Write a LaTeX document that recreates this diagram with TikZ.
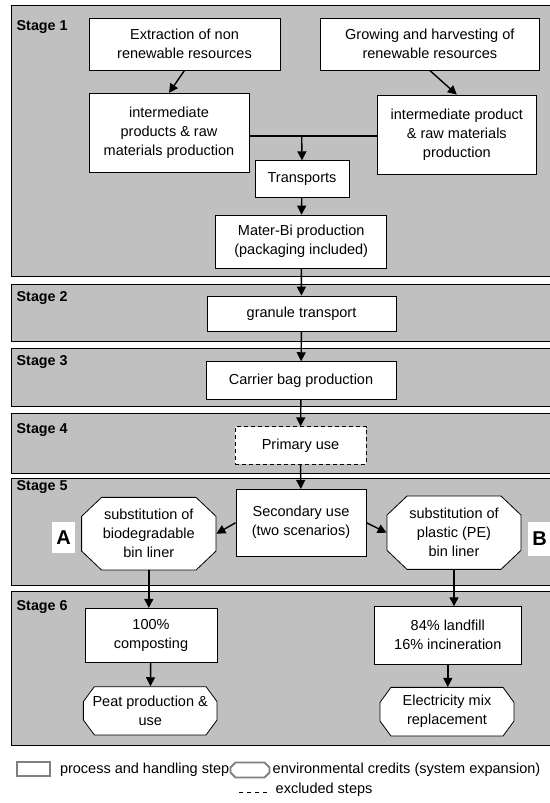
\documentclass[tikz,border=0pt]{standalone}
\usepackage{fontspec}
\setmainfont{Liberation Sans}
\usetikzlibrary{arrows.meta}
\definecolor{bandgray}{HTML}{C0C0C0}
\definecolor{leggray}{HTML}{808080}

\tikzset{
    stageband/.style={fill=bandgray, draw=black, line width=0.8pt},
    stagelabel/.style={anchor=west, inner sep=0pt, font=\fontsize{14.3}{16}\selectfont\bfseries},
    procbox/.style={draw=black, fill=white, line width=0.8pt, align=center, inner sep=0pt, font=\fontsize{14.5}{19}\selectfont},
    credittext/.style={procbox, draw=none, fill=none},
    creditline/.style={draw=black, fill=white, line width=0.8pt},
    letterbox/.style={fill=white, inner sep=0pt, font=\fontsize{20}{20}\selectfont\bfseries},
    legtext/.style={anchor=west, inner sep=0pt, font=\fontsize{14.5}{16}\selectfont}
}

% octagon outline: centre x, centre y, width, height, chamfer x, chamfer y
\newcommand{\creditshape}[7][creditline]{%
    \draw[#1] ({#2-#4/2+#6},{#3-#5/2}) -- ({#2+#4/2-#6},{#3-#5/2}) -- ({#2+#4/2},{#3-#5/2+#7})
        -- ({#2+#4/2},{#3+#5/2-#7}) -- ({#2+#4/2-#6},{#3+#5/2}) -- ({#2-#4/2+#6},{#3+#5/2})
        -- ({#2-#4/2},{#3+#5/2-#7}) -- ({#2-#4/2},{#3-#5/2+#7}) -- cycle;}

\begin{document}
\begin{tikzpicture}[x=1pt, y=-1pt, >={Triangle[length=9pt,width=9pt]}, line width=1.4pt]
        \useasboundingbox (0,0) rectangle (549,803);

        % stages
        \draw[stageband] (11,5) rectangle (560,276.7);
        \draw[stageband] (11,284) rectangle (560,341);
        \draw[stageband] (11,348.3) rectangle (560,406);
        \draw[stageband] (11,413.3) rectangle (560,473.3);
        \draw[stageband] (11,478.3) rectangle (560,585);
        \draw[stageband] (11,591.7) rectangle (560,745);

        \node[stagelabel] (st1) at (16,27) {Stage 1};
        \node[stagelabel] (st2) at (16,298) {Stage 2};
        \node[stagelabel] (st3) at (16,361.7) {Stage 3};
        \node[stagelabel] (st4) at (16,430) {Stage 4};
        \node[stagelabel] (st5) at (16,487) {Stage 5};
        \node[stagelabel] (st6) at (16,606.7) {Stage 6};

        % stage 1
        \node[procbox, minimum width=191pt, minimum height=51.7pt] (extr) at (184.5,44.2) {Extraction of non\\renewable resources};
        \node[procbox, minimum width=219.7pt, minimum height=51.7pt] (grow) at (429.8,44.2) {Growing and harvesting of\\renewable resources};
        \node[procbox, minimum width=160pt, minimum height=79.4pt] (intl) at (169,133) {intermediate\\products \& raw\\materials production};
        \node[procbox, minimum width=158.5pt, minimum height=79.3pt] (intr) at (456.8,134.7) {intermediate product\\\& raw materials\\production};
        \node[procbox, minimum width=94pt, minimum height=36.6pt] (trans) at (302,179) {Transports};
        \node[procbox, minimum width=171pt, minimum height=53.3pt] (mater) at (301.2,241.7) {Mater-Bi production\\(packaging included)};

        % stages 2 to 4
        \node[procbox, minimum width=189pt, minimum height=35pt] (gran) at (301.5,313.5) {granule transport};
        \node[procbox, minimum width=190pt, minimum height=37.3pt] (carr) at (301,380.3) {Carrier bag production};
        \node[procbox, dash pattern=on 4pt off 3pt, minimum width=131pt, minimum height=37.6pt] (prim) at (300.5,445.5) {Primary use};

        % stage 5
        \node[procbox, minimum width=130pt, minimum height=66.7pt] (sec) at (301,522.7) {Secondary use\\(two scenarios)};
        \creditshape{148.8}{533.7}{134.4}{72.7}{20}{19}
        \node[credittext, minimum width=134.4pt, minimum height=72.7pt] (octA) at (148.8,533.7) {substitution of\\biodegradable\\bin liner};
        \creditshape{454}{532.7}{134}{73.3}{20}{19}
        \node[credittext, minimum width=134pt, minimum height=73.3pt] (octB) at (454,532.7) {substitution of\\plastic (PE)\\bin liner};
        \node[letterbox, minimum width=23.5pt, minimum height=31.6pt] (lA) at (63.5,537.5) {A};
        \node[letterbox, minimum width=23pt, minimum height=34pt] (lB) at (539.5,538.5) {B};

        % stage 6
        \node[procbox, minimum width=132pt, minimum height=54.4pt] (comp) at (151,635.5) {100\%\\composting};
        \creditshape{150.2}{710.8}{133.7}{48.3}{11}{15}
        \node[credittext, minimum width=133.7pt, minimum height=48.3pt] (peat) at (150.2,710.8) {Peat production \&\\use};
        \node[procbox, minimum width=147.7pt, minimum height=57.3pt] (land) at (447.8,635.3) {84\% landfill\\16\% incineration};
        \creditshape{447}{711.7}{134}{48.7}{11}{15}
        \node[credittext, minimum width=134pt, minimum height=48.7pt] (elec) at (447,711.7) {Electricity mix\\replacement};

        % connectors
        \coordinate (jn) at (301.7,136);
        \draw[->] (extr.south) -- (intl.north);
        \draw[->] (grow.south) -- (intr.north);
        \draw (intl.east |- jn) -- (intr.west |- jn);
        \draw[->] (jn) -- (trans.north);
        \draw[->] (trans) -- (mater);
        \draw[->] (mater) -- (gran);
        \draw[->] (gran) -- (carr);
        \draw[->] (carr) -- (prim);
        \draw[->] (prim) -- (sec);
        \draw[->] (sec.west) -- (octA.east);
        \draw[->] (sec.east) -- (octB.west);
        \draw[->] (octA.south) -- (octA.south |- comp.north);
        \draw[->] (octB.south) -- (octB.south |- land.north);
        \draw[->] (comp) -- (peat);
        \draw[->] (land) -- (land.south |- elec.north);

        % legend
        \node[draw=leggray, line width=1.8pt, minimum width=33pt, minimum height=14pt, inner sep=0pt] (lgproc) at (33.7,769.2) {};
        \node[legtext] (lgproctx) at (59.3,770) {process and handling step};
        \creditshape[draw=leggray, line width=1.8pt]{250}{770}{39}{15}{5}{5}
        \node[inner sep=0pt, minimum width=39pt, minimum height=15pt] (lgcred) at (250,770) {};
        \node[legtext] (lgcredtx) at (272,770) {environmental credits (system expansion)};
        \coordinate (lgd1) at (239,792.5);
        \coordinate (lgd2) at (268,792.5);
        \draw[line width=1pt, dash pattern=on 4pt off 4pt] (lgd1) -- (lgd2);
        \node[legtext] (lgexcl) at (275,790) {excluded steps};

    \end{tikzpicture}
\end{document}
